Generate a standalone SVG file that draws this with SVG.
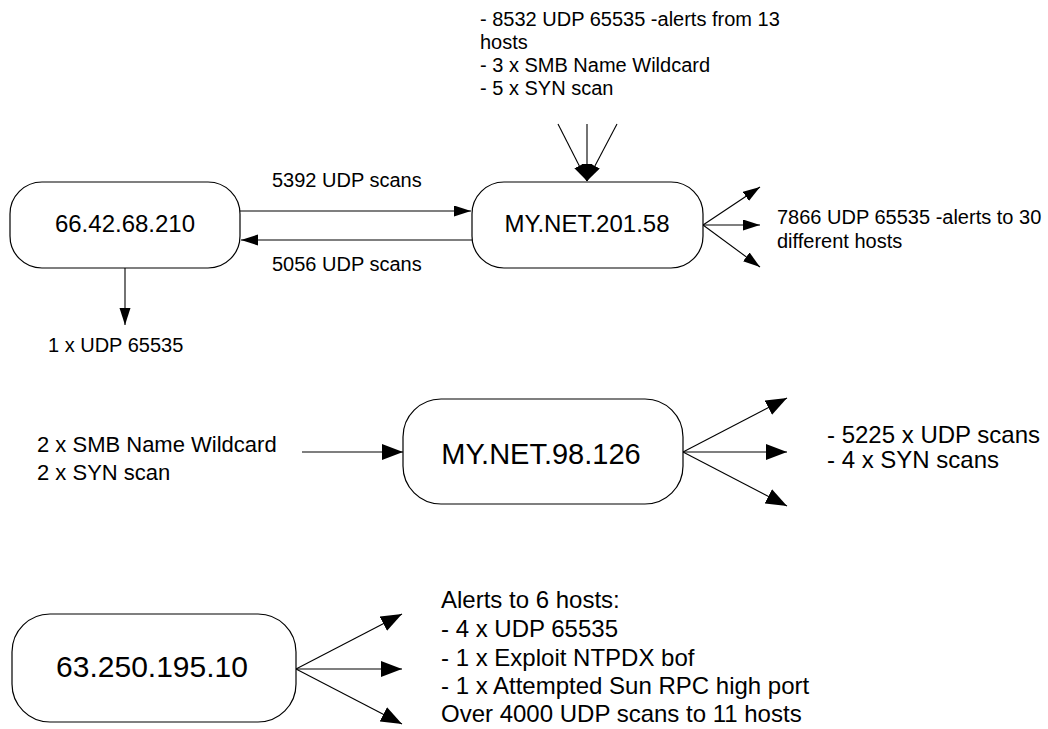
<svg xmlns="http://www.w3.org/2000/svg" width="1048" height="729" viewBox="0 0 1048 729">
  <style>
    .node rect { fill: #ffffff; stroke: #000000; stroke-width: 1.2; }
    .node text { font-family: "Liberation Sans", Arial, sans-serif; fill: #000000; text-anchor: middle; }
    .lbl { font-family: "Liberation Sans", Arial, sans-serif; fill: #000000; }
    .s20 { font-size: 20px; }
    .s22 { font-size: 22px; }
    .s24 { font-size: 24px; }
    .conn line { stroke: #000000; stroke-width: 1.1; marker-end: url(#arrow); }
    .conn line.big { marker-end: url(#arrowBig); }
  </style>
  <defs>
    <marker id="arrow" markerUnits="userSpaceOnUse" markerWidth="18" markerHeight="12" refX="17" refY="5.5" orient="auto">
      <path d="M0,0 L17,5.5 L0,11 z" fill="#000000"/>
    </marker>
    <marker id="arrowBig" markerUnits="userSpaceOnUse" markerWidth="22" markerHeight="16" refX="21" refY="8" orient="auto">
      <path d="M0,0 L21,8 L0,16 z" fill="#000000"/>
    </marker>
  </defs>
  <rect width="1048" height="729" fill="#ffffff"/>

  <!-- connectors -->
  <g id="connectors" class="conn">
    <line x1="240" y1="211" x2="471" y2="211"/>
    <line x1="472" y1="240" x2="241" y2="240"/>
    <line x1="125" y1="268" x2="125" y2="325"/>
    <line x1="558" y1="124" x2="587" y2="181"/>
    <line x1="587" y1="124" x2="587" y2="181"/>
    <line x1="617" y1="124" x2="587" y2="181"/>
    <line x1="703" y1="225" x2="760" y2="187"/>
    <line x1="703" y1="225" x2="760" y2="225"/>
    <line x1="703" y1="225" x2="760" y2="267"/>
    <line class="big" x1="302" y1="452" x2="403" y2="452"/>
    <line class="big" x1="683" y1="452" x2="787" y2="398"/>
    <line class="big" x1="683" y1="452" x2="787" y2="452"/>
    <line class="big" x1="683" y1="452" x2="787" y2="506"/>
    <line class="big" x1="296" y1="669" x2="402" y2="614"/>
    <line class="big" x1="296" y1="669" x2="402" y2="669"/>
    <line class="big" x1="296" y1="669" x2="402" y2="724"/>
  </g>

  <!-- nodes -->
  <g id="node-66-42-68-210" class="node">
    <rect x="10" y="182" width="230" height="86" rx="32" ry="32"/>
    <text x="125" y="232" font-size="24">66.42.68.210</text>
  </g>
  <g id="node-my-net-201-58" class="node">
    <rect x="472" y="182" width="231" height="86" rx="32" ry="32"/>
    <text x="587" y="232" font-size="24">MY.NET.201.58</text>
  </g>
  <g id="node-my-net-98-126" class="node">
    <rect x="403" y="399" width="280" height="105" rx="38" ry="38"/>
    <text x="541" y="464" font-size="29">MY.NET.98.126</text>
  </g>
  <g id="node-63-250-195-10" class="node">
    <rect x="12" y="614" width="284" height="108" rx="38" ry="38"/>
    <text x="152" y="677" font-size="30">63.250.195.10</text>
  </g>

  <!-- labels -->
  <g id="labels">
    <text class="lbl s20" x="272" y="187">5392 UDP scans</text>
    <text class="lbl s20" x="272" y="271">5056 UDP scans</text>
    <text class="lbl s20" x="48" y="352">1 x UDP 65535</text>
    <text class="lbl s20" x="480" y="26">- 8532 UDP 65535 -alerts from 13</text>
    <text class="lbl s20" x="480" y="49">hosts</text>
    <text class="lbl s20" x="480" y="72">- 3 x SMB Name Wildcard</text>
    <text class="lbl s20" x="480" y="95">- 5 x SYN scan</text>
    <text class="lbl s20" x="777" y="224">7866 UDP 65535 -alerts to 30</text>
    <text class="lbl s20" x="777" y="248">different hosts</text>
    <text class="lbl s22" x="37" y="452">2 x SMB Name Wildcard</text>
    <text class="lbl s22" x="37" y="480">2 x SYN scan</text>
    <text class="lbl s24" x="827" y="443">- 5225 x UDP scans</text>
    <text class="lbl s24" x="827" y="468">- 4 x SYN scans</text>
    <text class="lbl s24" x="441" y="608">Alerts to 6 hosts:</text>
    <text class="lbl s24" x="441" y="637">- 4 x UDP 65535</text>
    <text class="lbl s24" x="441" y="666">- 1 x Exploit NTPDX bof</text>
    <text class="lbl s24" x="441" y="694">- 1 x Attempted Sun RPC high port</text>
    <text class="lbl s24" x="441" y="722">Over 4000 UDP scans to 11 hosts</text>
  </g>
</svg>
